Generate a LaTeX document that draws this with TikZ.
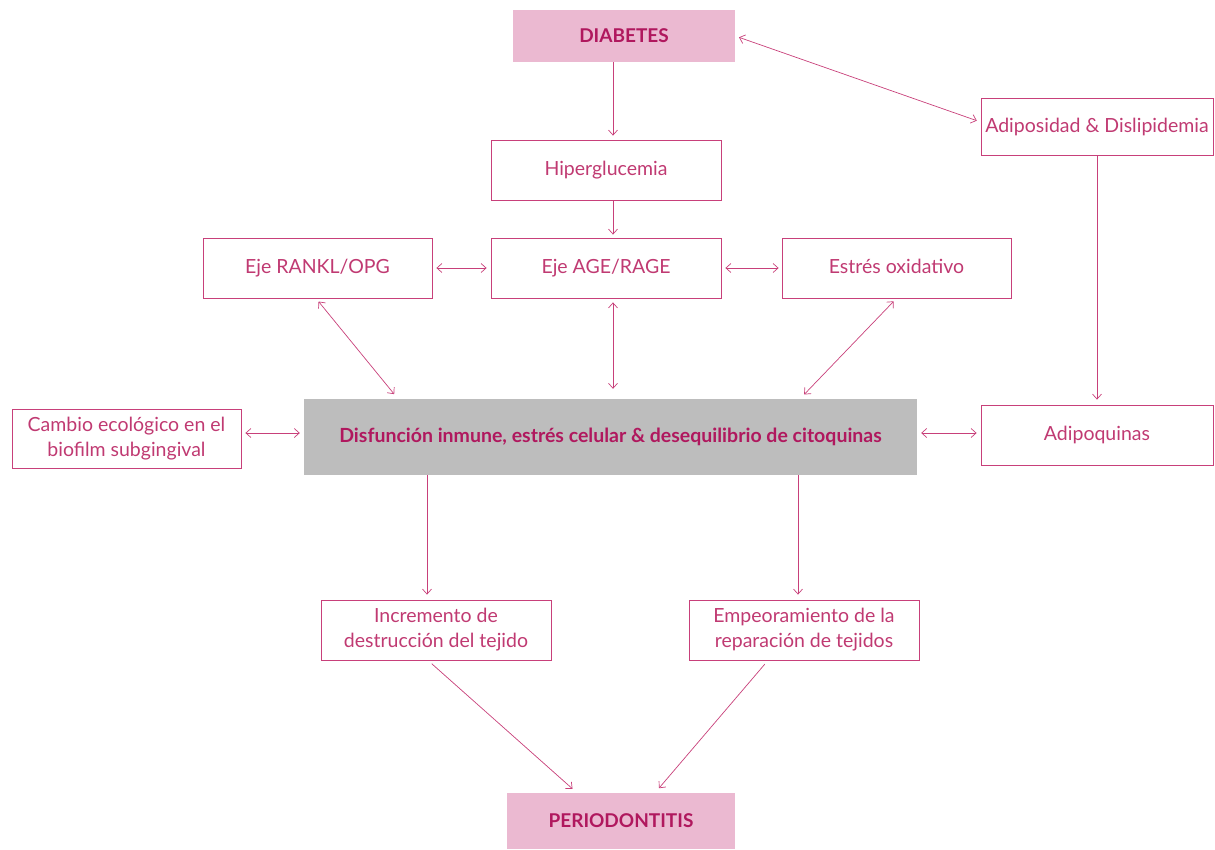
\documentclass[tikz,border=0pt]{standalone}
\usepackage{fontspec}
\setmainfont{Lato}
\usetikzlibrary{arrows.meta}
\definecolor{lineC}{HTML}{C8407A}
\definecolor{txtC}{HTML}{C03A72}
\definecolor{boldC}{HTML}{B0185E}
\definecolor{pinkF}{HTML}{EBB9D1}
\definecolor{greyF}{HTML}{BDBDBD}
\tikzset{
  box/.style={draw=lineC, line width=0.8pt, text=txtC, align=center, inner sep=0pt, font=\fontsize{19.5}{25}\selectfont},
  oneline/.style={text height=14pt, text depth=4pt},
  pinkbox/.style={fill=pinkF, draw=none, text=boldC, inner sep=0pt, font=\fontsize{19}{24}\selectfont\bfseries},
  greybox/.style={fill=greyF, draw=none, text=boldC, inner sep=0pt, font=\fontsize{19.5}{25}\selectfont\bfseries},
  conn/.style={draw=lineC, line width=0.7pt, -{Straight Barb[length=5pt,width=9pt]}},
  biconn/.style={draw=lineC, line width=0.7pt, {Straight Barb[length=5pt,width=9pt]}-{Straight Barb[length=5pt,width=9pt]}}
}
\begin{document}
\begin{tikzpicture}[x=1pt,y=-1pt]
\useasboundingbox (0,0) rectangle (1215,849);
\node[pinkbox, minimum width=222pt, minimum height=52pt] (diab) at (624,36) {DIABETES};
\node[box, oneline, minimum width=230pt, minimum height=60pt] (hip) at (606,170) {Hiperglucemia};
\node[box, oneline, minimum width=232pt, minimum height=57pt] (adip) at (1097,127) {Adiposidad \& Dislipidemia};
\node[box, oneline, minimum width=229pt, minimum height=60pt] (rankl) at (317.5,268) {Eje RANKL/OPG};
\node[box, oneline, minimum width=230pt, minimum height=60pt] (age) at (606,268) {Eje AGE/RAGE};
\node[box, oneline, minimum width=229pt, minimum height=60pt] (estres) at (896.5,268) {Estrés oxidativo};
\node[box, minimum width=229pt, minimum height=59pt] (cambio) at (126.5,439) {Cambio ecológico en el\\biofilm subgingival};
\node[greybox, minimum width=613pt, minimum height=76pt] (disf) at (610.5,437) {Disfunción inmune, estrés celular \& desequilibrio de citoquinas};
\node[box, oneline, minimum width=232pt, minimum height=60pt] (adipo) at (1097,435) {Adipoquinas};
\node[box, minimum width=230pt, minimum height=60pt] (incr) at (436,630) {Incremento de\\destrucción del tejido};
\node[box, minimum width=230pt, minimum height=60pt] (empe) at (804,630) {Empeoramiento de la\\reparación de tejidos};
\node[pinkbox, minimum width=228pt, minimum height=56pt] (perio) at (621,821) {PERIODONTITIS};
% connectors
\draw[conn, shorten >=4pt] ([xshift=-11pt]diab.south) -- ([xshift=7pt]hip.north);
\draw[conn, shorten >=3pt] ([xshift=7pt]hip.south) -- ([xshift=7pt]age.north);
\draw[biconn, shorten <=4pt, shorten >=4pt] (diab.east) -- ([yshift=5pt]adip.west);
\draw[conn, shorten >=5pt] (adip.south) -- (adipo.north);
\draw[biconn, shorten <=4pt, shorten >=4pt] (rankl.east) -- (age.west);
\draw[biconn, shorten <=4pt, shorten >=3pt] (age.east) -- (estres.west);
\draw[biconn, shorten <=4pt, shorten >=6pt] ([xshift=-1.5pt]rankl.south) -- ([xshift=-212.5pt]disf.north);
\draw[biconn, shorten <=4pt, shorten >=10pt] ([xshift=7pt]age.south) -- ([xshift=2.5pt]disf.north);
\draw[biconn, shorten <=4pt, shorten >=6pt] (estres.south) -- ([xshift=189.5pt]disf.north);
\draw[biconn, shorten <=4pt, shorten >=4pt] ([yshift=6pt]cambio.east) -- ([yshift=4pt]disf.west);
\draw[biconn, shorten <=4pt, shorten >=4pt] ([yshift=4pt]disf.east) -- ([yshift=2pt]adipo.west);
\draw[conn, shorten >=5pt] ([xshift=-183.5pt]disf.south) -- ([xshift=-9pt]incr.north);
\draw[conn, shorten >=5pt] ([xshift=187.5pt]disf.south) -- ([xshift=-6pt]empe.north);
\draw[conn, shorten <=5pt, shorten >=6pt] ([xshift=-8pt]incr.south) -- ([xshift=-44pt]perio.north);
\draw[conn, shorten <=5pt, shorten >=6pt] ([xshift=-36pt]empe.south) -- ([xshift=34pt]perio.north);
\end{tikzpicture}
\end{document}
